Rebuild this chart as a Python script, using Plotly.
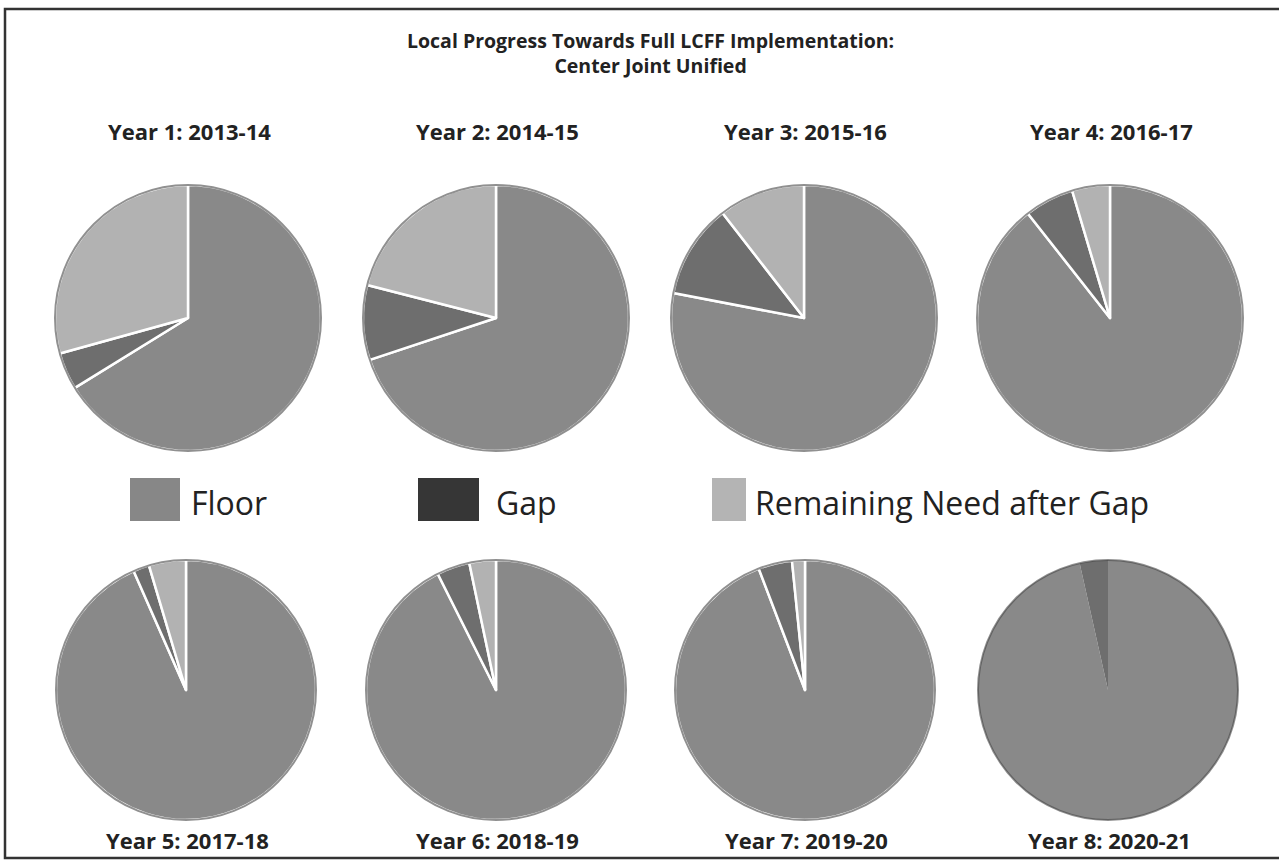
import plotly.graph_objects as go

W, H = 1279, 868

# Funding components per year (percent of full LCFF target)
years = ["Year 1: 2013-14", "Year 2: 2014-15", "Year 3: 2015-16", "Year 4: 2016-17",
         "Year 5: 2017-18", "Year 6: 2018-19", "Year 7: 2019-20", "Year 8: 2020-21"]
components = ["Floor", "Gap", "Remaining Need after Gap"]
floor = [66.2, 69.9, 78.0, 89.4, 93.4, 92.6, 94.2, 96.5]
gap = [4.5, 9.1, 11.5, 6.0, 2.0, 4.1, 4.2, 3.5]
remaining = [29.3, 21.0, 10.5, 4.6, 4.6, 3.3, 1.6, 0.0]

slice_colors = ["#898989", "#6e6e6e", "#b2b2b2"]
legend_colors = ["#878787", "#363636", "#b4b4b4"]

# pixel layout of the 2x4 grid (centres and radius)
col_x = [[188, 496, 804, 1110], [186, 496, 805, 1108]]
row_y = [318, 690]
radii = [133, 130]

FONT = "Open Sans"

fig = go.Figure()
shapes = []
annotations = []

def px_x(x):
    return x / W

def px_y(y):
    return 1 - y / H

for i, label in enumerate(years):
    r = i // 4
    c = i % 4
    cx, cy, rad = col_x[r][c], row_y[r], radii[r]
    line_w = 0 if remaining[i] == 0 else 2.5
    fig.add_trace(go.Pie(
        labels=components,
        values=[floor[i], gap[i], remaining[i]],
        sort=False,
        direction="clockwise",
        rotation=0,
        textinfo="none",
        hoverinfo="label+percent",
        marker=dict(colors=slice_colors, line=dict(color="white", width=line_w)),
        domain=dict(x=[px_x(cx - rad), px_x(cx + rad)],
                    y=[px_y(cy + rad), px_y(cy - rad)]),
        showlegend=False,
        name=label,
    ))
    # soft darker rim around each pie
    shapes.append(dict(type="circle", xref="paper", yref="paper",
                       x0=px_x(cx - rad), x1=px_x(cx + rad),
                       y0=px_y(cy + rad), y1=px_y(cy - rad),
                       line=dict(color="rgba(70,70,70,0.6)", width=2)))
    label_y = 131 if r == 0 else 840
    annotations.append(dict(text="<b>%s</b>" % label, x=px_x(cx + 1), y=px_y(label_y),
                            xref="paper", yref="paper", showarrow=False,
                            xanchor="center", yanchor="middle",
                            font=dict(family=FONT, size=22, color="#222222")))

# two-line title
annotations.append(dict(text="<b>Local Progress Towards Full LCFF Implementation:</b><br>"
                             "<b>Center Joint Unified</b>",
                        x=px_x(650), y=px_y(53), xref="paper", yref="paper",
                        showarrow=False, xanchor="center", yanchor="middle",
                        font=dict(family=FONT, size=19.5, color="#222222")))

# legend: swatches and labels
legend_swatch_x = [(130, 180), (418, 479), (712, 746)]
legend_text_x = [189, 494, 753]
for k, name in enumerate(components):
    x0, x1 = legend_swatch_x[k]
    shapes.append(dict(type="rect", xref="paper", yref="paper",
                       x0=px_x(x0), x1=px_x(x1), y0=px_y(521), y1=px_y(478),
                       fillcolor=legend_colors[k], line=dict(width=0)))
    annotations.append(dict(text=name, x=px_x(legend_text_x[k]), y=px_y(503),
                            xref="paper", yref="paper", showarrow=False,
                            xanchor="left", yanchor="middle",
                            font=dict(family=FONT, size=32, color="#222222")))

# outer frame
shapes.append(dict(type="rect", xref="paper", yref="paper",
                   x0=px_x(5), x1=px_x(1285), y0=px_y(858), y1=px_y(9),
                   line=dict(color="#333333", width=2.5)))

fig.update_layout(
    width=W, height=H,
    margin=dict(l=0, r=0, t=0, b=0),
    paper_bgcolor="white",
    plot_bgcolor="white",
    shapes=shapes,
    annotations=annotations,
    showlegend=False,
)

fig.write_html("out.html")
